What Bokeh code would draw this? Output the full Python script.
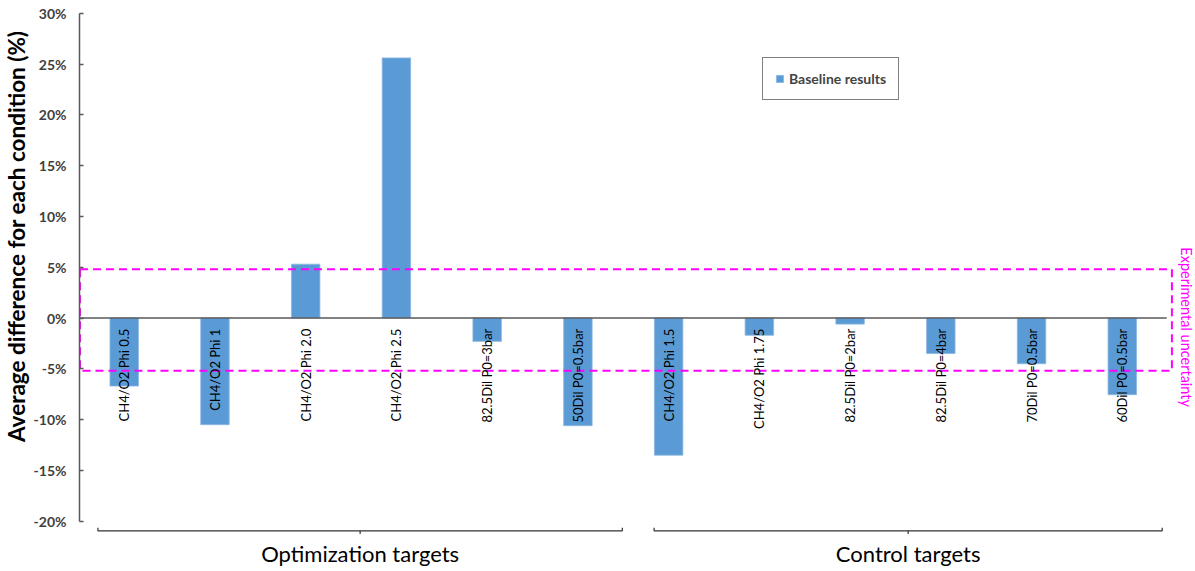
import math
from bokeh.plotting import figure
from bokeh.models import Range1d, FixedTicker, Title, Legend, LegendItem, ColumnDataSource
from bokeh.core.properties import value
from bokeh.embed import file_html
from bokeh.resources import INLINE

# ---- data ----
categories = ["CH4/O2 Phi 0.5", "CH4/O2 Phi 1", "CH4/O2 Phi 2.0", "CH4/O2 Phi 2.5",
              "82.5Dil P0=3bar", "50Dil P0=0.5bar",
              "CH4/O2 Phi 1.5", "CH4/O2 Phi 1.75", "82.5Dil P0=2bar", "82.5Dil P0=4bar",
              "70Dil P0=0.5bar", "60Dil P0=0.5bar"]
baseline = [-6.7, -10.5, 5.3, 25.6, -2.3, -10.6, -13.5, -1.7, -0.6, -3.5, -4.5, -7.55]
groups = ["Optimization targets", "Control targets"]
group_sizes = [6, 6]
tick_values = [-20, -15, -10, -5, 0, 5, 10, 15, 20, 25, 30]
uncertainty_low, uncertainty_high = -5.2, 4.8
series_name = "Baseline results"
y_title = "Average difference for each condition (%)"
unc_label = "Experimental uncertainty"

FONT = "Lato"
idx = list(range(len(categories)))
n = len(categories)

p = figure(width=1195, height=571, title=None,
           x_range=Range1d(-0.493, 11.807), y_range=Range1d(-24.95, 31.25),
           output_backend="svg", toolbar_location=None,
           min_border_left=79, min_border_right=0, min_border_top=0, min_border_bottom=0)
p.xaxis.visible = False
p.grid.visible = False
p.outline_line_color = None
p.background_fill_color = "white"

# y axis
ya = p.yaxis[0]
ya.bounds = (-20, 30)
ya.ticker = FixedTicker(ticks=tick_values)
ya.major_label_overrides = {v: f"{v}%" for v in tick_values}
ya.major_tick_in = 4
ya.major_tick_out = 0
ya.minor_tick_line_color = None
ya.axis_line_color = "#595959"
ya.axis_line_width = 1.5
ya.major_tick_line_color = "#595959"
ya.major_tick_line_width = 1.5
ya.major_label_text_font = FONT
ya.major_label_text_font_style = "bold"
ya.major_label_text_font_size = "14px"
ya.major_label_text_color = "#404040"
ya.major_label_standoff = 13

# y title as a left-side title
p.add_layout(Title(text=y_title, align="right", offset=30, vertical_align="middle",
                   text_font=FONT, text_font_size="22.5px", text_font_style="bold",
                   text_color="black", standoff=0), "left")

# bars
src = ColumnDataSource(dict(x=idx, top=baseline, cat=categories))
bars = p.vbar(x="x", top="top", bottom=0, width=0.314, source=src,
              fill_color="#5B9BD5", line_color="#8DB8E2", line_width=0.8)

# zero line
p.segment(x0=[-0.493], y0=[0], x1=[n - 0.51], y1=[0],
          line_color="#595959", line_width=1.5)

# uncertainty dashed box
xl, xr = -0.488, n - 0.453
p.line(x=[xl, xr, xr, xl, xl],
       y=[uncertainty_high, uncertainty_high, uncertainty_low, uncertainty_low, uncertainty_high],
       line_color="#FF00FF", line_width=2, line_dash="8 5")
p.text(x=[n - 0.295], y=[(uncertainty_high + uncertainty_low) / 2 - 0.7], text=[unc_label],
       angle=-math.pi / 2, text_align="center", text_baseline="middle",
       text_font=value(FONT), text_font_size="14.5px", text_color="#FF00FF")

# category labels
p.text(x="x", y=-1.05, text="cat", source=src, angle=math.pi / 2,
       text_align="right", text_baseline="middle",
       text_font=value(FONT), text_font_size="13px", text_color="black")

# group brackets
yb = -20.95
start = 0
pads = [(-0.29, 0.49), (-0.16, 0.44)]
for g, k, (pl, pr) in zip(groups, group_sizes, pads):
    s = start + pl
    e = start + k - 1 + pr
    c = (s + e) / 2
    p.line(x=[s, s, e, e], y=[yb + 0.3, yb, yb, yb + 0.3], line_color="#333333", line_width=1.2)
    p.segment(x0=[c], y0=[yb], x1=[c], y1=[yb - 0.3], line_color="#333333", line_width=1.2)
    p.text(x=[c], y=[-23.2], text=[g], text_align="center", text_baseline="middle",
           text_font=value(FONT), text_font_size="22px", text_color="black")
    start += k

# legend
legend = Legend(items=[LegendItem(label=series_name, renderers=[bars])],
                location=(683, 471), border_line_color="black", border_line_width=1.5,
                padding=12, margin=0, glyph_width=9, glyph_height=9, label_standoff=5,
                label_height=14, label_text_font=FONT, label_text_font_size="14px",
                label_text_font_style="bold", background_fill_alpha=1.0)
p.add_layout(legend)

open("out.html", "w").write(file_html(p, INLINE))
